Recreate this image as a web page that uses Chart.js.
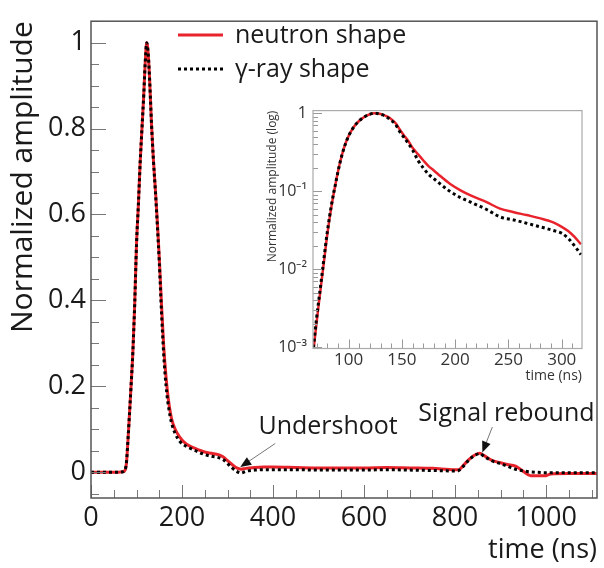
<!DOCTYPE html>
<html>
<head>
<meta charset="utf-8">
<script src="https://cdn.jsdelivr.net/npm/chart.js@4.4.1/dist/chart.umd.min.js"></script>
<style>
  body { margin: 0; background: #fff; }
  #wrap { position: relative; width: 604px; height: 568px; }
  #mainChart { position: absolute; left: 0; top: 0; }
  #insetChart { position: absolute; left: 262px; top: 95px; }
</style>
</head>
<body>
<div id="wrap">
  <canvas id="mainChart" width="604" height="568"></canvas>
  <canvas id="insetChart" width="330" height="295"></canvas>
</div>
<script>
// Pulse shapes over the full window (ns, amplitude normalised to the peak)
const mainTime = [0, 60, 70, 75, 78, 81, 84, 88, 92, 96, 100, 104, 108, 112, 116, 119, 122.5, 126, 129, 133,
  137, 142, 146, 150, 155, 160, 165, 170, 177, 185, 195, 210, 230, 250, 265, 280, 290, 300, 310, 320,
  330, 340, 360, 380, 400, 450, 500, 550, 600, 650, 700, 750, 800, 808, 820, 830, 840, 854, 865, 880,
  900, 915, 933, 950, 966, 1000, 1010, 1050, 1112]
const mainNeutron = [0, 0, 0.001, 0.005, 0.022, 0.07, 0.125, 0.2, 0.28, 0.39, 0.53, 0.62, 0.72, 0.8, 0.88, 0.95, 1.0, 0.97, 0.91, 0.81,
  0.73, 0.65, 0.58, 0.5, 0.39, 0.29, 0.22, 0.17, 0.125, 0.1, 0.082, 0.065, 0.055, 0.047, 0.044, 0.041, 0.036, 0.027, 0.018, 0.01,
  0.007, 0.009, 0.011, 0.012, 0.012, 0.011, 0.01, 0.01, 0.01, 0.011, 0.01, 0.009, 0.006, 0.006, 0.018, 0.029, 0.038, 0.044, 0.038, 0.028,
  0.022, 0.018, 0.014, 0.002, -0.008, -0.008, -0.004, -0.003, -0.003]
const mainGamma = [0, 0, 0.001, 0.006, 0.024, 0.072, 0.125, 0.2, 0.28, 0.39, 0.53, 0.62, 0.72, 0.8, 0.88, 0.95, 1.0, 0.97, 0.91, 0.81,
  0.73, 0.645, 0.57, 0.49, 0.37, 0.27, 0.2, 0.155, 0.115, 0.09, 0.072, 0.06, 0.05, 0.041, 0.037, 0.034, 0.03, 0.02, 0.01, 0.002,
  -0.002, 0.002, 0.005, 0.006, 0.006, 0.006, 0.005, 0.005, 0.005, 0.006, 0.005, 0.004, 0.003, 0.004, 0.016, 0.028, 0.037, 0.043, 0.036, 0.027,
  0.02, 0.014, 0.007, 0.003, 0.001, -0.001, -0.001, -0.001, -0.001]

// Leading part of the pulse, log amplitude
const insetTime = [67, 70, 72, 76, 80, 84, 88, 92, 96, 100, 105, 110, 115, 120, 124, 128, 132, 136, 140, 144,
  148, 152, 156, 160, 165, 170, 175, 180, 186, 195, 205, 215, 230, 242, 255, 267, 280, 292, 300, 306, 312, 318]
const insetNeutron = [0.0009, 0.0021, 0.0036, 0.01, 0.028, 0.065, 0.13, 0.235, 0.37, 0.51, 0.67, 0.8, 0.9, 0.97, 1.0, 0.99, 0.96, 0.91, 0.84, 0.75,
  0.62, 0.52, 0.44, 0.36, 0.3, 0.25, 0.21, 0.185, 0.157, 0.125, 0.103, 0.088, 0.072, 0.06, 0.054, 0.0496, 0.045, 0.04, 0.035, 0.031, 0.026, 0.021]
const insetGamma = [0.001, 0.0024, 0.004, 0.011, 0.03, 0.068, 0.13, 0.235, 0.37, 0.51, 0.67, 0.8, 0.9, 0.97, 1.0, 0.985, 0.95, 0.89, 0.81, 0.72,
  0.58, 0.49, 0.41, 0.34, 0.25, 0.2, 0.165, 0.145, 0.124, 0.1, 0.083, 0.072, 0.058, 0.047, 0.043, 0.039, 0.035, 0.0315, 0.029, 0.025, 0.02, 0.0155]

const mainXTicks = [0, 200, 400, 600, 800, 1000]
const mainYTicks = [0, 0.2, 0.4, 0.6, 0.8, 1]
const insetXTicks = [100, 150, 200, 250, 300]
const insetYTicks = [0.001, 0.01, 0.1, 1]
const seriesNames = ["neutron shape", "γ-ray shape"]

const FONT = "Open Sans"
const RED = "#e8232b"
const INK = "#1a1a1a"

const points = (xs, ys) => xs.map((x, i) => ({ x, y: ys[i] }))
const range = (a, b, step) => {
  const out = []
  for (let v = a; v <= b + 1e-9; v += step) out.push(+v.toFixed(6))
  return out
}

// frame box + inward ticks on bottom and left, ROOT style
const framePlugin = {
  id: "frame",
  afterDatasetsDraw(chart, args, opts) {
    const { ctx, chartArea: a, scales } = chart
    ctx.save()
    ctx.strokeStyle = opts.tickColor
    ctx.lineWidth = 1
    ctx.beginPath()
    opts.xTicks.forEach(([v, len]) => {
      const x = Math.round(scales.x.getPixelForValue(v)) + 0.5
      ctx.moveTo(x, a.bottom)
      ctx.lineTo(x, a.bottom - len)
    })
    opts.yTicks.forEach(([v, len]) => {
      const y = Math.round(scales.y.getPixelForValue(v)) + 0.5
      ctx.moveTo(a.left, y)
      ctx.lineTo(a.left + len, y)
    })
    ctx.stroke()
    ctx.strokeStyle = opts.color
    ctx.lineWidth = opts.lineWidth
    ctx.strokeRect(a.left, a.top, a.right - a.left, a.bottom - a.top)
    ctx.restore()
  },
}

// legend and the two arrow notes, placed in data coordinates
const notes = [
  { text: "Undershoot", label: [521, 0.105], tail: [405, 0.067], head: [328, 0.012] },
  { text: "Signal rebound", label: [913, 0.135], tail: [882, 0.105], head: [860, 0.046] },
]

const labelsPlugin = {
  id: "labels",
  afterDraw(chart) {
    const { ctx } = chart
    const { x, y } = chart.scales
    ctx.save()
    ctx.font = `25px '${FONT}'`
    ctx.fillStyle = INK
    ctx.textBaseline = "middle"

    chart.data.datasets.forEach((ds, i) => {
      const ly = 35 + i * 34
      ctx.strokeStyle = ds.borderColor
      ctx.lineWidth = 3
      ctx.setLineDash(ds.borderDash || [])
      ctx.beginPath()
      ctx.moveTo(178, ly)
      ctx.lineTo(223, ly)
      ctx.stroke()
      ctx.setLineDash([])
      ctx.textAlign = "left"
      ctx.fillText(ds.label, 235, ly + 1)
    })

    notes.forEach((n) => {
      ctx.textAlign = "center"
      ctx.fillText(n.text, x.getPixelForValue(n.label[0]), y.getPixelForValue(n.label[1]))
      const x0 = x.getPixelForValue(n.tail[0]), y0 = y.getPixelForValue(n.tail[1])
      const x1 = x.getPixelForValue(n.head[0]), y1 = y.getPixelForValue(n.head[1])
      const ang = Math.atan2(y1 - y0, x1 - x0)
      ctx.strokeStyle = "#777"
      ctx.lineWidth = 1
      ctx.beginPath()
      ctx.moveTo(x0, y0)
      ctx.lineTo(x1 - 8 * Math.cos(ang), y1 - 8 * Math.sin(ang))
      ctx.stroke()
      ctx.fillStyle = "#111"
      ctx.beginPath()
      ctx.moveTo(x1, y1)
      ctx.lineTo(x1 - 11 * Math.cos(ang) + 4.5 * Math.sin(ang), y1 - 11 * Math.sin(ang) - 4.5 * Math.cos(ang))
      ctx.lineTo(x1 - 11 * Math.cos(ang) - 4.5 * Math.sin(ang), y1 - 11 * Math.sin(ang) + 4.5 * Math.cos(ang))
      ctx.closePath()
      ctx.fill()
      ctx.fillStyle = INK
    })
    ctx.restore()
  },
}

// main pulse plot
new Chart(document.getElementById("mainChart"), {
  type: "line",
  data: {
    datasets: [
      { label: seriesNames[0], data: points(mainTime, mainNeutron), borderColor: RED, borderWidth: 3, order: 2 },
      { label: seriesNames[1], data: points(mainTime, mainGamma), borderColor: "#000", borderWidth: 3, borderDash: [3, 3], order: 1 },
    ],
  },
  options: {
    responsive: false,
    animation: false,
    devicePixelRatio: 1,
    layout: { padding: { top: 8, right: 7, left: 0, bottom: 0 } },
    elements: { point: { radius: 0 }, line: { cubicInterpolationMode: "monotone", fill: false } },
    plugins: {
      legend: { display: false },
      tooltip: { enabled: false },
      frame: {
        color: "#555",
        tickColor: "#777",
        lineWidth: 1.5,
        xTicks: range(0, 1100, 50).map((v) => [v, v % 200 === 0 ? 13 : 8]),
        yTicks: range(-0.05, 1.05, 0.05).map((v) => [v, Math.abs(v * 5 - Math.round(v * 5)) < 1e-6 ? 15 : 8]),
      },
    },
    scales: {
      x: {
        type: "linear",
        min: 0,
        max: 1112,
        afterBuildTicks: (s) => { s.ticks = mainXTicks.map((v) => ({ value: v })) },
        afterFit: (s) => { s.height = 70 },
        grid: { display: false, drawTicks: false },
        border: { display: false },
        ticks: { font: { family: FONT, size: 27 }, color: INK, padding: 4, maxRotation: 0, autoSkip: false, callback: (v) => String(v) },
        title: { display: true, text: "time (ns)", align: "end", color: INK, font: { family: FONT, size: 27 }, padding: { top: 0, bottom: 1 } },
      },
      y: {
        min: -0.06,
        max: 1.05,
        afterBuildTicks: (s) => { s.ticks = mainYTicks.map((v) => ({ value: v })) },
        afterFit: (s) => { s.width = 91 },
        grid: { display: false, drawTicks: false },
        border: { display: false },
        ticks: { font: { family: FONT, size: 27 }, color: INK, padding: 5, autoSkip: false, callback: (v) => String(v) },
        title: { display: true, text: "Normalized amplitude", align: "end", color: INK, font: { family: FONT, size: 30 }, padding: { top: 5, bottom: 0 } },
      },
    },
  },
  plugins: [framePlugin, labelsPlugin],
})

// inset: log view of the leading part
const sup = { "-": "⁻", 0: "⁰", 1: "¹", 2: "²", 3: "³" }
const logLabel = (v) => {
  const p = Math.round(Math.log10(v))
  return p === 0 ? "1" : "10" + String(p).split("").map((c) => sup[c]).join("")
}
const logTicks = []
for (let d = -3; d <= 0; d++) {
  for (let k = 1; k <= 9; k++) {
    const v = k * Math.pow(10, d)
    if (v <= 1.08) logTicks.push([v, k === 1 ? 9 : 5])
  }
}

new Chart(document.getElementById("insetChart"), {
  type: "line",
  data: {
    datasets: [
      { label: seriesNames[0], data: points(insetTime, insetNeutron), borderColor: RED, borderWidth: 2.5, order: 2 },
      { label: seriesNames[1], data: points(insetTime, insetGamma), borderColor: "#000", borderWidth: 3, borderDash: [3, 3], order: 1 },
    ],
  },
  options: {
    responsive: false,
    animation: false,
    devicePixelRatio: 1,
    layout: { padding: { top: 10, right: 10, left: 0, bottom: 0 } },
    elements: { point: { radius: 0 }, line: { cubicInterpolationMode: "monotone", fill: false } },
    plugins: {
      legend: { display: false },
      tooltip: { enabled: false },
      frame: {
        color: "#aaa",
        tickColor: "#999",
        lineWidth: 1.2,
        xTicks: range(70, 310, 10).map((v) => [v, v % 50 === 0 ? 9 : 5]),
        yTicks: logTicks,
      },
    },
    scales: {
      x: {
        type: "linear",
        min: 66.6,
        max: 319,
        afterBuildTicks: (s) => { s.ticks = insetXTicks.map((v) => ({ value: v })) },
        afterFit: (s) => { s.height = 41.5 },
        grid: { display: false, drawTicks: false },
        border: { display: false },
        ticks: { font: { family: FONT, size: 17 }, color: "#333", padding: 1, maxRotation: 0, autoSkip: false, callback: (v) => String(v) },
        title: { display: true, text: "time (ns)", align: "end", color: "#333", font: { family: FONT, size: 14 }, padding: { top: 0, bottom: 6 } },
      },
      y: {
        type: "logarithmic",
        min: 0.00097,
        max: 1.08,
        afterBuildTicks: (s) => { s.ticks = insetYTicks.map((v) => ({ value: v })) },
        afterFit: (s) => { s.width = 51 },
        grid: { display: false, drawTicks: false },
        border: { display: false },
        ticks: { font: { family: FONT, size: 16 }, color: "#333", padding: 6, autoSkip: false, callback: logLabel },
        title: { display: true, text: "Normalized amplitude (log)", align: "end", color: "#333", font: { family: FONT, size: 12 }, padding: { top: 3, bottom: 0 } },
      },
    },
  },
  plugins: [framePlugin],
})
</script>
</body>
</html>
